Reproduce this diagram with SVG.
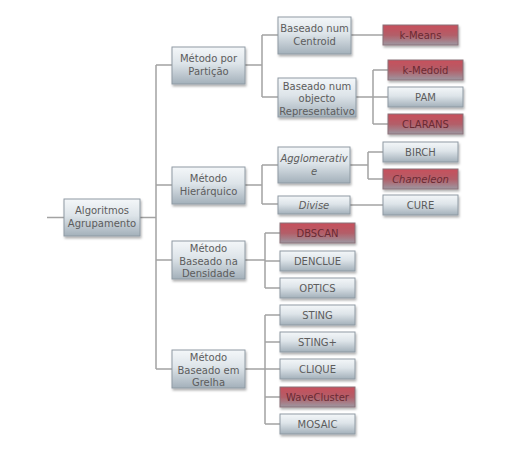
<svg xmlns="http://www.w3.org/2000/svg" width="511" height="450" viewBox="0 0 511 450">
<defs>
<linearGradient id="gGray" x1="0" y1="0" x2="0" y2="1">
<stop offset="0" stop-color="#f4f7f9"/>
<stop offset="0.45" stop-color="#dde4e9"/>
<stop offset="1" stop-color="#a3b0ba"/>
</linearGradient>
<linearGradient id="gRed" x1="0" y1="0" x2="0" y2="1">
<stop offset="0" stop-color="#c84f5b"/>
<stop offset="0.5" stop-color="#b35e68"/>
<stop offset="1" stop-color="#9d97a1"/>
</linearGradient>
<filter id="sh" x="-10%" y="-20%" width="130%" height="160%">
<feDropShadow dx="1" dy="2" stdDeviation="1.2" flood-color="#000" flood-opacity="0.3"/>
</filter>
</defs>
<style>
.box{fill:url(#gGray);stroke:#8f9aa3;stroke-width:1;filter:url(#sh)}
.red{fill:url(#gRed);stroke:#8a7078;stroke-width:1;filter:url(#sh)}
text{font-family:"DejaVu Sans",Verdana,sans-serif;font-size:10px;fill:#5c5c5c;text-anchor:middle}
.rt{fill:#6a2a33}
.it{font-style:italic}
.conn{stroke:#a3a3a3;stroke-width:1.5;fill:none}
</style>
<rect width="511" height="450" fill="#ffffff"/>
<g id="connectors" class="conn">
<path d="M47 217.5H64M140 217.5H156M156 65V369M156 65H172M156 185H172M156 260H172M156 369H172"/>
<path d="M245 65H262M262 35V97M262 35H278M262 97H278"/>
<path d="M245 185H262M262 165V204M262 165H278M262 204H278"/>
<path d="M245 260H265M265 233V288M265 233H280M265 261H280M265 288H280"/>
<path d="M245 369H265M265 315V424M265 315H280M265 342H280M265 369H280M265 397H280M265 424H280"/>
<path d="M351 35H383"/>
<path d="M356 97H373M373 70V124M373 70H388M373 97H388M373 124H388"/>
<path d="M350 165H368M368 152V179M368 152H383M368 179H383"/>
<path d="M350 205H383"/>
</g>
<g id="root"><rect class="box" x="64" y="199" width="76" height="37"/><text x="102" y="214">Algoritmos</text><text x="102" y="227">Agrupamento</text></g>
<g id="particao"><rect class="box" x="172" y="47" width="73" height="37"/><text x="208.5" y="62">Método por</text><text x="208.5" y="75">Partição</text></g>
<g id="hierarquico"><rect class="box" x="172" y="167" width="73" height="37"/><text x="208.5" y="182">Método</text><text x="208.5" y="195">Hierárquico</text></g>
<g id="densidade"><rect class="box" x="172" y="241" width="73" height="38"/><text x="208.5" y="252">Método</text><text x="208.5" y="264.5">Baseado na</text><text x="208.5" y="277">Densidade</text></g>
<g id="grelha"><rect class="box" x="172" y="350" width="73" height="38"/><text x="208.5" y="361">Método</text><text x="208.5" y="373.5">Baseado em</text><text x="208.5" y="386">Grelha</text></g>
<g id="centroid"><rect class="box" x="278" y="17" width="73" height="37"/><text x="314.5" y="32">Baseado num</text><text x="314.5" y="45">Centroid</text></g>
<g id="representativo"><rect class="box" x="278" y="78" width="78" height="39"/><text x="317" y="89.5">Baseado num</text><text x="317" y="102">objecto</text><text x="317" y="114.5">Representativo</text></g>
<g id="agglomerative"><rect class="box" x="278" y="147" width="72" height="36"/><text class="it" x="314" y="162">Agglomerativ</text><text class="it" x="314" y="175">e</text></g>
<g id="divise"><rect class="box" x="278" y="196" width="72" height="18"/><text class="it" x="314" y="208.5">Divise</text></g>
<g id="kmeans"><rect class="red" x="383" y="25" width="75" height="20"/><text class="rt" x="420.5" y="38.5">k-Means</text></g>
<g id="kmedoid"><rect class="red" x="388" y="60" width="75" height="20"/><text class="rt" x="425.5" y="73.5">k-Medoid</text></g>
<g id="pam"><rect class="box" x="388" y="87" width="75" height="20"/><text x="425.5" y="100.5">PAM</text></g>
<g id="clarans"><rect class="red" x="388" y="114" width="75" height="20"/><text class="rt" x="425.5" y="127.5">CLARANS</text></g>
<g id="birch"><rect class="box" x="383" y="142" width="75" height="20"/><text x="420.5" y="155.5">BIRCH</text></g>
<g id="chameleon"><rect class="red" x="383" y="169" width="75" height="20"/><text class="rt it" x="420.5" y="182.5">Chameleon</text></g>
<g id="cure"><rect class="box" x="383" y="195" width="75" height="20"/><text x="420.5" y="208.5">CURE</text></g>
<g id="dbscan"><rect class="red" x="280" y="223" width="75" height="20"/><text class="rt" x="317.5" y="236.5">DBSCAN</text></g>
<g id="denclue"><rect class="box" x="280" y="251" width="75" height="20"/><text x="317.5" y="264.5">DENCLUE</text></g>
<g id="optics"><rect class="box" x="280" y="278" width="75" height="20"/><text x="317.5" y="291.5">OPTICS</text></g>
<g id="sting"><rect class="box" x="280" y="305" width="75" height="20"/><text x="317.5" y="318.5">STING</text></g>
<g id="stingplus"><rect class="box" x="280" y="332" width="75" height="20"/><text x="317.5" y="345.5">STING+</text></g>
<g id="clique"><rect class="box" x="280" y="359" width="75" height="20"/><text x="317.5" y="372.5">CLIQUE</text></g>
<g id="wavecluster"><rect class="red" x="280" y="387" width="75" height="20"/><text class="rt" x="317.5" y="400.5">WaveCluster</text></g>
<g id="mosaic"><rect class="box" x="280" y="414" width="75" height="20"/><text x="317.5" y="427.5">MOSAIC</text></g>
</svg>
